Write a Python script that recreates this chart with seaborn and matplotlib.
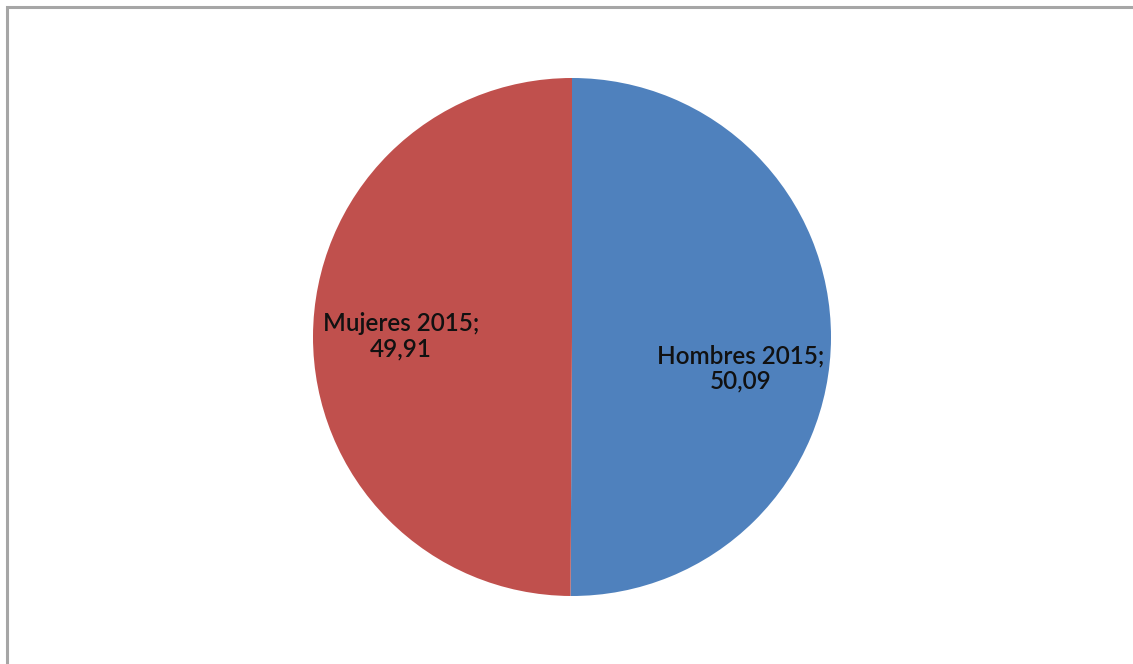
import numpy as np
import seaborn as sns
import matplotlib.pyplot as plt
from matplotlib.patches import Rectangle

labels = ["Hombres 2015", "Mujeres 2015"]
values = [50.09, 49.91]
colors = ["#4F81BD", "#C0504D"]

sns.set_theme(style="white")
plt.rcParams['font.family'] = ['Lato', 'DejaVu Sans']

fig = plt.figure(figsize=(11.33, 6.64), dpi=100)

# chart area frame (only left and top edges visible in the original crop)
fig.add_artist(Rectangle((7 / 1133, -0.1), 1.2, (664 - 7) / 664 + 0.1,
                         transform=fig.transFigure, fill=False,
                         edgecolor="#A6A6A6", linewidth=2.2))

# square axes that holds the pie
cx, cy, r = 572, 337, 259
ax = fig.add_axes([(cx - r) / 1133, (664 - cy - r) / 664, 2 * r / 1133, 2 * r / 664])
wedges, _ = ax.pie(values, colors=colors, startangle=90, counterclock=False,
                   wedgeprops=dict(linewidth=0))
ax.set_xlim(-1, 1)
ax.set_ylim(-1, 1)
ax.set_aspect('auto')
ax.axis('off')

# data labels, Excel style "name; value"
offsets = [(0.65, -0.12), (0.66, 0.0)]
for w, lab, val, (dist, dy) in zip(wedges, labels, values, offsets):
    ang = np.deg2rad((w.theta1 + w.theta2) / 2)
    x = dist * np.cos(ang)
    y = dist * np.sin(ang) + dy
    txt = f"{lab};\n{val:.2f}".replace(".", ",")
    ax.text(x, y, txt, ha="center", va="center", fontsize=17.5,
            fontweight="semibold", color="#111111", linespacing=1.15)

fig.savefig("out.png", dpi=100)
